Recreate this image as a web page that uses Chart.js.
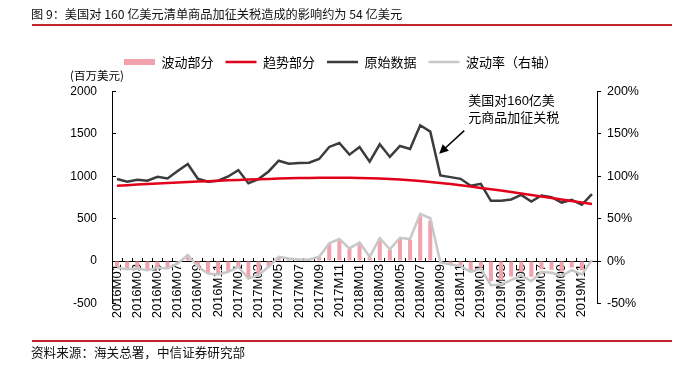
<!DOCTYPE html>
<html>
<head>
<meta charset="utf-8">
<script src="https://cdn.jsdelivr.net/npm/chart.js@4.4.0/dist/chart.umd.min.js"></script>
<style>
  html, body { margin: 0; padding: 0; background: #fff; }
  #wrap { position: relative; width: 681px; height: 369px; overflow: hidden; font-family: "Noto Sans CJK SC", sans-serif; }
  #chart { position: absolute; left: 0; top: 0; }
  .cap { position: absolute; left: 31px; color: #111; white-space: nowrap; line-height: 1; }
  .rule { position: absolute; left: 32px; width: 640px; height: 2px; background: #c3272b; }
</style>
</head>
<body>
<div id="wrap">
  <canvas id="chart" width="681" height="369"></canvas>
  <div class="cap" style="top:8px;font-size:12.2px">图 9：美国对 160 亿美元清单商品加征关税造成的影响约为 54 亿美元</div>
  <div class="rule" style="top:24px"></div>
  <div class="rule" style="top:340px;height:1.5px"></div>
  <div class="cap" style="top:346px;font-size:12.6px">资料来源：海关总署，中信证券研究部</div>
</div>
<script>
// monthly categories
const months = [
  "2016M01","2016M02","2016M03","2016M04","2016M05","2016M06","2016M07","2016M08","2016M09","2016M10","2016M11","2016M12",
  "2017M01","2017M02","2017M03","2017M04","2017M05","2017M06","2017M07","2017M08","2017M09","2017M10","2017M11","2017M12",
  "2018M01","2018M02","2018M03","2018M04","2018M05","2018M06","2018M07","2018M08","2018M09","2018M10","2018M11","2018M12",
  "2019M01","2019M02","2019M03","2019M04","2019M05","2019M06","2019M07","2019M08","2019M09","2019M10","2019M11","2019M12"
];

// 波动部分 (百万美元)
const fluctuation = [-70,-85,-79,-97,-72,-80,-26,66,-63,-138,-150,-120,
  -64,-197,-160,-65,50,31,20,20,50,207,256,148,
  216,50,263,134,266,249,529,475,-15,-35,-52,-110,
  -74,-238,-227,-181,-131,-183,-95,-102,-126,-75,-109,8];

// 趋势部分
const trend = [889,896,903,909,915,921,927,933,938,943,948,953,
  958,962,966,970,974,977,980,982,984,985,985,984,
  982,979,975,969,962,954,945,934,922,909,895,880,
  864,848,832,815,798,781,763,745,727,709,691,673];

// 原始数据
const original = [968,936,960,948,995,975,1062,1146,971,936,948,999,
  1074,920,968,1058,1185,1149,1157,1161,1205,1347,1394,1256,
  1347,1173,1378,1229,1359,1323,1603,1528,1011,991,971,889,
  912,711,711,727,782,703,774,755,691,723,664,790];

// 波动率（右轴）, %
const ratio = [-7.9,-9.5,-8.7,-10.7,-7.9,-8.7,-2.8,7.1,-6.7,-14.6,-15.8,-12.6,
  -6.7,-20.5,-16.6,-6.7,5.1,3.2,2.0,2.0,5.1,21,26,15,
  22,5.1,27,13.8,27.6,26,55.7,50.6,-1.6,-3.9,-5.9,-12.6,
  -8.7,-28.4,-27.6,-22.5,-16.6,-23.7,-12.6,-13.8,-17.4,-10.7,-15.8,1.2];

const leftAxis = { min: -500, max: 2000, step: 500 };
const rightAxis = { min: -50, max: 200, step: 50 };

// callout, in data units (category index, left-axis value)
const noteLines = ["美国对160亿美", "元商品加征关税"];
const noteAt = { x: 34.75, y: 1884 };
const arrowFrom = { x: 34.36, y: 1540 };
const arrowTo = { x: 31.88, y: 1268 };

const PINK = "#f2a2ad";
const RED = "#e3001b";
const DARK = "#3c3c3c";
const GRAY = "#c8c8c8";
const LATIN = '"Liberation Sans", "Noto Sans CJK SC", sans-serif';
const CJK = '"Noto Sans CJK SC", sans-serif';

const notePlugin = {
  id: "note",
  afterDatasetsDraw(chart) {
    const { ctx, scales: { x, y } } = chart;
    ctx.save();
    ctx.fillStyle = "#000";
    ctx.strokeStyle = "#000";
    ctx.font = "13px " + LATIN;
    ctx.textAlign = "left";
    ctx.textBaseline = "middle";
    const tx = x.getPixelForValue(noteAt.x);
    const ty = y.getPixelForValue(noteAt.y);
    noteLines.forEach((t, i) => ctx.fillText(t, tx, ty + i * 17));

    const x1 = x.getPixelForValue(arrowFrom.x), y1 = y.getPixelForValue(arrowFrom.y);
    const x2 = x.getPixelForValue(arrowTo.x), y2 = y.getPixelForValue(arrowTo.y);
    const ang = Math.atan2(y2 - y1, x2 - x1);
    const len = 9, w = 4.5;
    ctx.lineWidth = 1.5;
    ctx.beginPath();
    ctx.moveTo(x1, y1);
    ctx.lineTo(x2 - len * 0.6 * Math.cos(ang), y2 - len * 0.6 * Math.sin(ang));
    ctx.stroke();
    ctx.beginPath();
    ctx.moveTo(x2, y2);
    ctx.lineTo(x2 - len * Math.cos(ang) + w * Math.sin(ang), y2 - len * Math.sin(ang) - w * Math.cos(ang));
    ctx.lineTo(x2 - len * Math.cos(ang) - w * Math.sin(ang), y2 - len * Math.sin(ang) + w * Math.cos(ang));
    ctx.closePath();
    ctx.fill();
    ctx.restore();
  }
};

new Chart(document.getElementById("chart"), {
  type: "bar",
  data: {
    labels: months,
    datasets: [
      { type: "bar", label: "波动部分", data: fluctuation, backgroundColor: PINK, yAxisID: "y",
        barPercentage: 0.4, categoryPercentage: 1, order: 4 },
      { type: "line", label: "趋势部分", data: trend, borderColor: RED, borderWidth: 2.5,
        pointRadius: 0, tension: 0, yAxisID: "y", order: 1 },
      { type: "line", label: "原始数据", data: original, borderColor: DARK, borderWidth: 2.5,
        pointRadius: 0, tension: 0, yAxisID: "y", order: 2 },
      { type: "line", label: "波动率（右轴）", data: ratio, borderColor: GRAY, borderWidth: 2.5,
        pointRadius: 0, tension: 0, yAxisID: "y1", order: 3 }
    ]
  },
  options: {
    responsive: false,
    animation: false,
    layout: { padding: { top: 43.5, left: 70, right: 39, bottom: 65.5 } },
    plugins: {
      tooltip: { enabled: false },
      legend: {
        position: "top",
        fullSize: false,
        align: "start",
        labels: {
          usePointStyle: true,
          pointStyleWidth: 31,
          padding: 12,
          color: "#000",
          font: { size: 13, family: CJK },
          generateLabels(chart) {
            return chart.data.datasets.map((ds, i) => {
              const c = ds.type === "bar" ? ds.backgroundColor : ds.borderColor;
              return { text: ds.label, fillStyle: c, strokeStyle: c, lineWidth: ds.type === "bar" ? 6 : 2.5,
                pointStyle: "line", hidden: false, datasetIndex: i, fontColor: "#000" };
            });
          }
        }
      },
      title: {
        display: true,
        text: "(百万美元)",
        align: "start",
        weight: 500,
        color: "#000",
        font: { size: 11.5, weight: "normal", family: CJK },
        padding: { top: -9.5, bottom: 8.8 }
      }
    },
    scales: {
      x: {
        type: "category",
        position: { y: 0 },
        offset: true,
        grid: { display: true, drawOnChartArea: false, tickLength: -4, color: "#000", offset: true },
        border: { display: true, color: "#000", width: 1 },
        ticks: {
          autoSkip: false, minRotation: 90, maxRotation: 90, padding: 7,
          color: "#000", font: { size: 13, family: LATIN },
          callback: (v, i) => (i % 2 === 0 ? months[i] : "")
        }
      },
      y: {
        position: "left",
        min: leftAxis.min, max: leftAxis.max,
        grid: { drawOnChartArea: false, tickLength: -4, color: "#000" },
        border: { display: true, color: "#000", width: 1 },
        ticks: { stepSize: leftAxis.step, padding: 19, color: "#000", font: { size: 12, family: LATIN },
          callback: v => String(v) },
        afterFit(s) { s.width = 42; }
      },
      y1: {
        position: "right",
        min: rightAxis.min, max: rightAxis.max,
        grid: { drawOnChartArea: false, tickLength: 4, color: "#000" },
        border: { display: true, color: "#000", width: 1 },
        ticks: { stepSize: rightAxis.step, padding: 6, color: "#000", font: { size: 12.5, family: LATIN },
          callback: v => v + "%" },
        afterFit(s) { s.width = 45; }
      }
    }
  },
  plugins: [notePlugin]
});
</script>
</body>
</html>
